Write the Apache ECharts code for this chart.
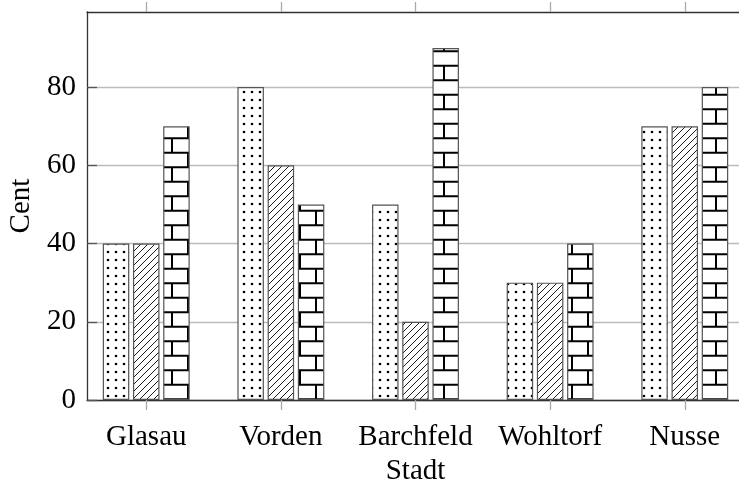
<!DOCTYPE html>
<html>
<head>
<meta charset="utf-8">
<script src="https://cdn.jsdelivr.net/npm/echarts@6/dist/echarts.min.js"></script>
<style>
html,body{margin:0;padding:0;background:#fff;}
#c{width:739px;height:485px;}
</style>
</head>
<body>
<div id="c"></div>
<script>
const categories = ['Glasau', 'Vorden', 'Barchfeld', 'Wohltorf', 'Nusse'];
const seriesDots = [40, 80, 50, 30, 70];
const seriesLines = [40, 60, 20, 30, 70];
const seriesBricks = [70, 50, 90, 40, 80];
const yTicks = [0, 20, 40, 60, 80];
const catIndex = [0, 1, 2, 3, 4];

function makeCanvas(w, h) {
  const c = document.createElement('canvas');
  c.width = w; c.height = h;
  return c;
}
function dotsPattern() {
  const c = makeCanvas(8, 8), g = c.getContext('2d');
  g.fillStyle = '#fff'; g.fillRect(0, 0, 8, 8);
  g.fillStyle = '#000';
  g.beginPath(); g.arc(4, 4, 1.35, 0, Math.PI * 2); g.fill();
  return c;
}
function linesPattern() {
  const s = 7;
  const c = makeCanvas(s, s), g = c.getContext('2d');
  g.fillStyle = '#fff'; g.fillRect(0, 0, s, s);
  g.strokeStyle = '#000'; g.lineWidth = 0.9;
  g.beginPath();
  g.moveTo(-1, s + 1); g.lineTo(s + 1, -1);
  g.moveTo(-1, 1); g.lineTo(1, -1);
  g.moveTo(s - 1, s + 1); g.lineTo(s + 1, s - 1);
  g.stroke();
  return c;
}
function bricksPattern() {
  const w = 32, h = 29, r = 14.5;
  const c = makeCanvas(w, h), g = c.getContext('2d');
  g.fillStyle = '#fff'; g.fillRect(0, 0, w, h);
  g.strokeStyle = '#000'; g.lineWidth = 2;
  g.beginPath();
  g.moveTo(0, 7.7); g.lineTo(w, 7.7);
  g.moveTo(0, 7.7 + r); g.lineTo(w, 7.7 + r);
  g.moveTo(28, 7.7); g.lineTo(28, 7.7 + r);
  g.moveTo(12, 7.7 + r); g.lineTo(12, h);
  g.moveTo(12, 0); g.lineTo(12, 7.7);
  g.stroke();
  return c;
}

const font = 'Liberation Serif';
const chart = echarts.init(document.getElementById('c'), null, {renderer: 'canvas'});
const barStyle = (img) => ({
  color: {image: img, repeat: 'repeat'},
  borderColor: '#555',
  borderWidth: 1.2
});
const toPairs = arr => arr.map((v, i) => [catIndex[i], v]);

chart.setOption({
  animation: false,
  backgroundColor: '#fff',
  grid: {left: 87, right: -5, top: 12, bottom: 85, containLabel: false, outerBoundsMode: 'none'},
  xAxis: [{
    type: 'value',
    min: -0.44, max: 4.44,
    name: 'Stadt', nameLocation: 'middle', nameGap: 56,
    nameTextStyle: {fontFamily: font, fontSize: 29, color: '#000'},
    axisLine: {show: true, onZero: false, lineStyle: {color: '#333', width: 1.3}},
    axisTick: {show: true, customValues: catIndex, length: 10, inside: false, lineStyle: {color: '#aaa', width: 1.3}},
    axisLabel: {show: true, customValues: catIndex, margin: 23, formatter: v => categories[Math.round(v)],
      fontFamily: font, fontSize: 29, color: '#000'},
    splitLine: {show: false}
  }, {
    type: 'value', position: 'top',
    min: -0.44, max: 4.44,
    axisLine: {show: true, onZero: false, lineStyle: {color: '#333', width: 1.3}},
    axisTick: {show: true, customValues: catIndex, length: 10, inside: false, lineStyle: {color: '#aaa', width: 1.3}},
    axisLabel: {show: false},
    splitLine: {show: false}
  }],
  yAxis: {
    type: 'value', min: 0, max: 99.2, interval: 20,
    name: 'Cent', nameLocation: 'middle', nameGap: 51, nameRotate: 90,
    nameTextStyle: {fontFamily: font, fontSize: 29, color: '#000'},
    axisLine: {show: true, onZero: false, lineStyle: {color: '#333', width: 1.3}},
    axisTick: {show: true, customValues: yTicks, inside: true, length: 10, lineStyle: {color: '#555', width: 1.3}},
    axisLabel: {show: true, customValues: yTicks, margin: 11, fontFamily: font, fontSize: 29, color: '#000'},
    splitLine: {show: true, lineStyle: {color: '#bbb', width: 1.3}}
  },
  series: [
    {type: 'bar', data: toPairs(seriesDots), barWidth: 26.5, barGap: '14%', itemStyle: barStyle(dotsPattern())},
    {type: 'bar', data: toPairs(seriesLines), barWidth: 26.5, barGap: '14%', itemStyle: barStyle(linesPattern())},
    {type: 'bar', data: toPairs(seriesBricks), barWidth: 26.5, barGap: '14%', itemStyle: barStyle(bricksPattern())}
  ]
});
</script>
</body>
</html>
